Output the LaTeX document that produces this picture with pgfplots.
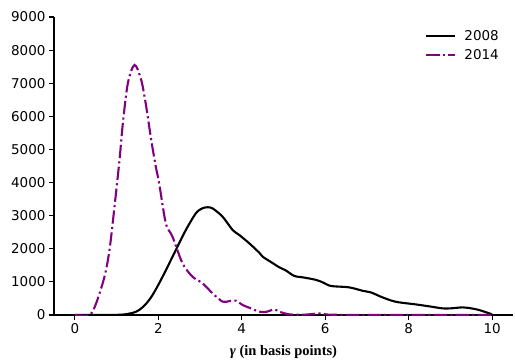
\documentclass[border=0pt]{standalone}
\usepackage{pgfplots}
\pgfplotsset{compat=1.18}
\usepackage{fontspec}
\setmainfont{DejaVu Sans}
\newfontfamily\lserif{Liberation Serif}
\definecolor{mplpurple}{HTML}{800080}
\begin{document}
\begin{tikzpicture}
\useasboundingbox (-54pt,-45pt) rectangle (461pt,315pt);
\begin{axis}[
  at={(0,0)}, anchor=south west,
  scale only axis, width=459pt, height=298pt,
  xmin=-0.5, xmax=10.5, ymin=0, ymax=9000,
  axis x line*=bottom, axis y line*=left,
  axis line style={-, line width=1.1pt},
  tick align=outside, major tick length=5pt,
  every tick/.style={black, line width=1.1pt},
  xtick={0,2,4,6,8,10}, ytick={0,1000,...,9000},
  scaled y ticks=false,
  /pgf/number format/assume math mode=true,
  /pgf/number format/1000 sep={},
  ticklabel style={font=\fontsize{13.5}{16}\selectfont},
  xlabel={\lserif\bfseries{\itshape γ} (in basis points)},
  xlabel style={font=\fontsize{14.5}{17}\selectfont, at={(axis description cs:0.5,0)}, anchor=center, yshift=-37pt},
  legend style={draw=none, fill=none, at={(rel axis cs:1,1)}, anchor=north east, xshift=-9pt, yshift=-9pt, font=\fontsize{13.5}{16}\selectfont, row sep=3.5pt},
  legend cell align=left,
  legend image code/.code={\draw[#1] (0pt,0pt) -- (29pt,0pt); \path (35pt,0pt);},
]
\addplot[black, line width=2.1pt, smooth, tension=0.5] coordinates {
(0,0) (0.5,0) (1.0,5) (1.2,20) (1.4,70) (1.54,150) (1.7,330) (1.85,580) (2.02,958) (2.2,1400) (2.42,1964) (2.66,2568) (2.90,3072) (3.05,3220) (3.18,3254) (3.3,3220) (3.54,2970) (3.78,2568) (3.94,2417) (4.18,2165) (4.42,1880) (4.5,1762) (4.7,1600) (4.90,1440) (5.05,1350) (5.26,1180) (5.5,1130) (5.78,1060) (5.95,980) (6.14,876) (6.57,836) (6.9,730) (7.1,680) (7.37,534) (7.69,400) (8.17,320) (8.5,260) (8.81,200) (9.0,200) (9.29,230) (9.5,200) (9.69,150) (10.0,20)
};
\addlegendentry{2008}
\addplot[mplpurple, line width=2.1pt, smooth, tension=0.5, dash pattern=on 13.3pt off 3.3pt on 2.1pt off 3.3pt] coordinates {
(0,0) (0.35,0) (0.51,353) (0.71,1157) (0.83,1964) (0.95,3272) (1.07,4683) (1.15,5791) (1.27,7000) (1.43,7553) (1.59,7100) (1.71,6293) (1.83,5287) (1.94,4480) (2.02,3978) (2.18,2770) (2.34,2366) (2.58,1562) (2.82,1157) (3.06,958) (3.30,655) (3.54,403) (3.7,420) (3.86,432) (4.02,302) (4.18,220) (4.42,100) (4.6,100) (4.78,170) (4.9,100) (5.14,20) (5.5,10) (5.9,50) (6.1,10) (7,5) (8,0) (10,0)
};
\addlegendentry{2014}
\end{axis}
\end{tikzpicture}
\end{document}
